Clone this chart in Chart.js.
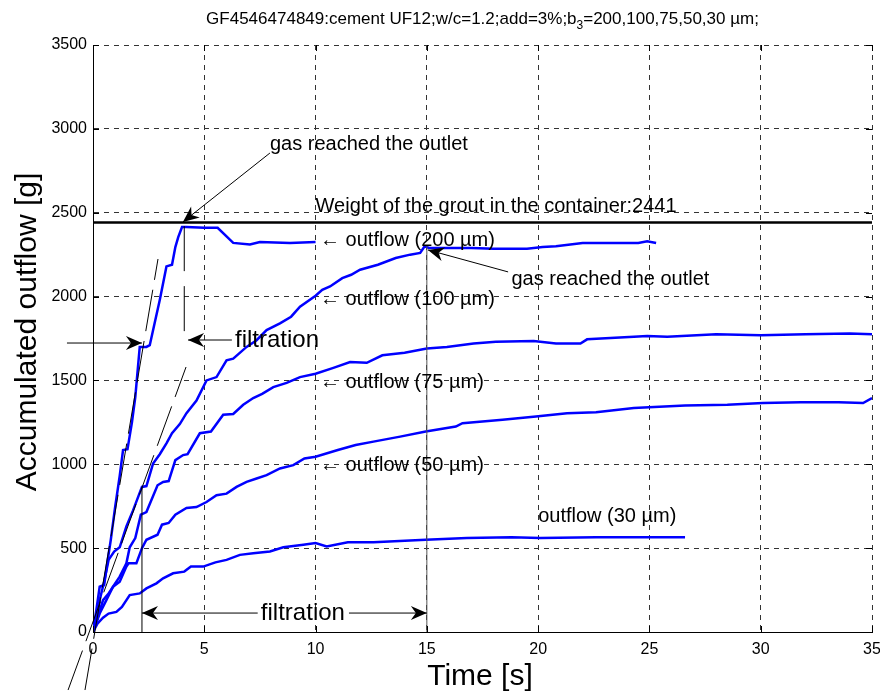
<!DOCTYPE html>
<html>
<head>
<meta charset="utf-8">
<script src="https://cdn.jsdelivr.net/npm/chart.js@4.4.1/dist/chart.umd.min.js"></script>
<style>
  html, body { margin: 0; padding: 0; background: #fff; }
  canvas { display: block; }
</style>
</head>
<body>
<canvas id="c" width="880" height="693"></canvas>
<script>
// outflow curves, time [s] and accumulated outflow [g]
var t200 = [0, 0.15, 0.3, 0.5, 0.65, 0.8, 1.0, 1.2, 1.35, 1.55, 1.75, 1.9, 2.1, 2.4, 2.55, 2.8, 3.0, 3.3, 3.55, 3.7, 3.83, 4.0, 4.2, 5.0, 5.6, 6.3, 7.05, 7.5, 8.85, 10];
var v200 = [0, 130, 270, 280, 420, 550, 750, 930, 1085, 1090, 1250, 1400, 1700, 1700, 1710, 1860, 1980, 2180, 2190, 2295, 2355, 2415, 2415, 2410, 2410, 2320, 2310, 2325, 2320, 2325];

var t100 = [0, 0.15, 0.3, 0.5, 0.7, 0.95, 1.2, 1.5, 1.8, 2.2, 2.4, 2.7, 3.0, 3.3, 3.55, 3.9, 4.2, 4.65, 5.1, 5.55, 6.0, 6.3, 6.9, 7.35, 7.8, 8.4, 8.9, 9.3, 10, 10.3, 10.65, 11.2, 11.6, 12.0, 12.8, 13.6, 14.25, 14.7, 14.9, 15.1, 16, 17, 18, 19.5, 20.2, 20.8, 22, 23, 24.5, 24.9, 25.3];
var v100 = [0, 60, 190, 300, 430, 480, 505, 630, 725, 865, 870, 1005, 1060, 1125, 1185, 1240, 1305, 1380, 1500, 1520, 1620, 1630, 1700, 1740, 1800, 1840, 1880, 1940, 2005, 2040, 2060, 2110, 2130, 2160, 2190, 2230, 2250, 2260, 2300, 2290, 2290, 2290, 2285, 2285, 2295, 2300, 2320, 2320, 2320, 2330, 2320];

var t75 = [0, 0.2, 0.45, 0.7, 0.9, 1.2, 1.5, 1.65, 1.9, 2.15, 2.4, 2.9, 3.15, 3.4, 3.7, 4.05, 4.25, 4.8, 5.3, 5.85, 6.3, 6.75, 7.2, 7.6, 8.1, 8.7, 9.3, 10, 10.8, 11.55, 12.3, 13.0, 14.0, 15, 15.9, 17.1, 18.1, 19.8, 20.8, 21.9, 22.2, 24.3, 24.9, 25.8, 28, 30, 32, 34, 35];
var v75 = [0, 80, 190, 230, 270, 330, 410, 505, 560, 700, 715, 875, 895, 900, 1025, 1055, 1060, 1185, 1195, 1295, 1300, 1355, 1395, 1420, 1460, 1485, 1520, 1540, 1575, 1610, 1605, 1650, 1665, 1690, 1700, 1720, 1730, 1735, 1720, 1720, 1745, 1760, 1765, 1760, 1775, 1770, 1775, 1780, 1775];

var t50 = [0, 0.3, 0.6, 0.9, 1.2, 1.5, 1.6, 1.95, 2.2, 2.4, 2.9, 3.1, 3.4, 3.7, 4.2, 4.65, 5.1, 5.55, 6.0, 6.45, 6.9, 7.35, 7.8, 8.4, 9.0, 9.5, 10, 11, 11.8, 12.6, 13.8, 14.95, 16.3, 16.6, 18.4, 19.9, 21.3, 22.6, 24.3, 26.6, 28.5, 30.1, 31.8, 33.5, 34.6, 35];
var v50 = [0, 110, 190, 270, 300, 390, 410, 410, 500, 550, 580, 640, 650, 700, 740, 745, 775, 815, 825, 865, 895, 915, 935, 975, 995, 1035, 1045, 1085, 1115, 1135, 1165, 1195, 1225, 1245, 1265, 1285, 1305, 1310, 1335, 1350, 1355, 1365, 1370, 1370, 1365, 1395];

var t30 = [0, 0.2, 0.45, 0.7, 1.05, 1.3, 1.65, 2.1, 2.4, 2.85, 3.15, 3.6, 4.1, 4.4, 4.95, 5.5, 6.0, 6.6, 7.2, 7.95, 8.55, 9.45, 10, 10.5, 11.45, 12.6, 14.95, 16.8, 18.8, 20.1, 22.6, 25, 26.6];
var v30 = [0, 50, 85, 110, 120, 150, 220, 230, 260, 290, 320, 350, 360, 390, 390, 415, 430, 460, 470, 480, 505, 520, 530, 510, 535, 535, 550, 560, 565, 560, 565, 565, 565];

var groutWeight = 2441;
var xTicks = [0, 5, 10, 15, 20, 25, 30, 35];
var yTicks = [0, 500, 1000, 1500, 2000, 2500, 3000, 3500];

// helper lines (tangents and markers), in data units
var tangent1 = [[-0.36, -346], [2.92, 2224]];
var tangent2 = [[-1.12, -346], [4.18, 1580]];
var gasMark1 = [[4.1, 2420], [4.1, 1790]];
var filtStart = [[2.2, 0], [2.2, 865]];
var filtEnd = [[15, 0], [15, 2300]];

var FONT = '"Liberation Sans", Arial, Helvetica, sans-serif';

function pts(t, v) { return t.map(function (x, i) { return { x: x, y: v[i] }; }); }
function seg(a) { return a.map(function (p) { return { x: p[0], y: p[1] }; }); }

function blue(t, v) {
  return { data: pts(t, v), borderColor: '#0000ff', borderWidth: 2.5, pointRadius: 0, tension: 0, fill: false };
}
function black(d, w, dash, col) {
  return { data: d, borderColor: col || '#000', borderWidth: w, borderDash: dash || [], pointRadius: 0, tension: 0, fill: false, clip: false };
}

function arrowHead(ctx, x, y, ang) {
  // matlab-like concave arrow head, tip at (x,y)
  var L = 16, W = 7, B = 11;
  ctx.save();
  ctx.translate(x, y);
  ctx.rotate(ang);
  ctx.beginPath();
  ctx.moveTo(0, 0);
  ctx.lineTo(-L, -W);
  ctx.lineTo(-B, 0);
  ctx.lineTo(-L, W);
  ctx.closePath();
  ctx.fillStyle = '#000';
  ctx.fill();
  ctx.restore();
}
function arrow(ctx, x1, y1, x2, y2) {
  ctx.beginPath();
  ctx.moveTo(x1, y1);
  ctx.lineTo(x2, y2);
  ctx.strokeStyle = '#000';
  ctx.lineWidth = 1;
  ctx.stroke();
  arrowHead(ctx, x2, y2, Math.atan2(y2 - y1, x2 - x1));
}

var decor = {
  id: 'decor',
  afterDraw: function (chart) {
    var ctx = chart.ctx, xs = chart.scales.x, ys = chart.scales.y, a = chart.chartArea;
    var X = function (t) { return xs.getPixelForValue(t); };
    var Y = function (v) { return ys.getPixelForValue(v); };
    ctx.save();

    // inward tick marks
    ctx.strokeStyle = '#000';
    ctx.lineWidth = 1;
    ctx.beginPath();
    xTicks.forEach(function (t) {
      var p = Math.round(X(t)) + 0.5;
      ctx.moveTo(p, a.bottom); ctx.lineTo(p, a.bottom - 6);
      ctx.moveTo(p, a.top); ctx.lineTo(p, a.top + 6);
    });
    yTicks.forEach(function (v) {
      var p = Math.round(Y(v)) + 0.5;
      ctx.moveTo(a.left, p); ctx.lineTo(a.left + 6, p);
      ctx.moveTo(a.right, p); ctx.lineTo(a.right - 6, p);
    });
    ctx.stroke();

    ctx.fillStyle = '#000';
    ctx.textBaseline = 'alphabetic';

    // title with subscript
    var p1 = 'GF4546474849:cement UF12;w/c=1.2;add=3%;b', p2 = '3', p3 = '=200,100,75,50,30 \u00b5m;';
    ctx.font = '17px ' + FONT;
    var w1 = ctx.measureText(p1).width, w3 = ctx.measureText(p3).width;
    ctx.font = '12px ' + FONT;
    var w2 = ctx.measureText(p2).width;
    var sx = (a.left + a.right) / 2 - (w1 + w2 + w3) / 2;
    ctx.textAlign = 'left';
    ctx.font = '17px ' + FONT;
    ctx.fillText(p1, sx, 24);
    ctx.font = '12px ' + FONT;
    ctx.fillText(p2, sx + w1, 29);
    ctx.font = '17px ' + FONT;
    ctx.fillText(p3, sx + w1 + w2, 24);

    // axis titles
    ctx.font = '30px ' + FONT;
    ctx.textAlign = 'center';
    ctx.fillText('Time [s]', 480, 685);
    ctx.save();
    ctx.translate(36, 332);
    ctx.rotate(-Math.PI / 2);
    ctx.fillText('Accumulated outflow [g]', 0, 0);
    ctx.restore();

    // labels
    ctx.font = '20px ' + FONT;
    ctx.textAlign = 'left';
    ctx.textBaseline = 'middle';
    ctx.fillText('Weight of the grout in the container:2441', X(10.0), Y(2540));
    ctx.fillText('\u2190 outflow (200 \u00b5m)', X(10.2), Y(2337));
    ctx.fillText('\u2190 outflow (100 \u00b5m)', X(10.2), Y(1985));
    ctx.fillText('\u2190 outflow (75 \u00b5m)', X(10.2), Y(1490));
    ctx.fillText('\u2190 outflow (50 \u00b5m)', X(10.2), Y(990));
    ctx.fillText('outflow (30 \u00b5m)', X(20.0), Y(686));
    ctx.fillText('gas reached the outlet', X(18.8), Y(2100));
    ctx.fillText('gas reached the outlet', X(7.95), Y(2904));

    arrow(ctx, X(18.65), Y(2147), X(15.05), Y(2278));
    arrow(ctx, X(7.95), Y(2856), X(4.04), Y(2445));

    // filtration (upper)
    ctx.font = '24px ' + FONT;
    ctx.fillText('filtration', X(6.38), Y(1741));
    arrow(ctx, X(6.24), Y(1741), X(4.27), Y(1741));
    arrow(ctx, X(-1.17), Y(1723), X(2.2), Y(1723));

    // filtration (lower)
    ctx.textAlign = 'center';
    ctx.fillText('filtration', X(9.43), Y(113));
    arrow(ctx, X(7.4), Y(113), X(2.2), Y(113));
    arrow(ctx, X(11.5), Y(113), X(15), Y(113));

    ctx.restore();
  }
};

function plain(v) { return String(v); }

new Chart(document.getElementById('c'), {
  type: 'line',
  data: {
    datasets: [
      black([{ x: 0, y: groutWeight }, { x: 35, y: groutWeight }], 2.5),
      black(seg(tangent1), 1, [42, 10]),
      black(seg(tangent2), 1, [42, 10]),
      black(seg(gasMark1), 1, [45, 15]),
      black(seg(filtStart), 1),
      black(seg(filtEnd), 1, [], '#555'),
      blue(t200, v200),
      blue(t100, v100),
      blue(t75, v75),
      blue(t50, v50),
      blue(t30, v30)
    ]
  },
  options: {
    responsive: false,
    animation: false,
    layout: { padding: { top: 45, right: 8, left: 0, bottom: 0 } },
    plugins: { legend: { display: false }, tooltip: { enabled: false }, title: { display: false } },
    scales: {
      x: {
        type: 'linear', min: 0, max: 35,
        afterFit: function (s) { s.height = 61; s.paddingLeft = 0; s.paddingRight = 0; },
        afterBuildTicks: function (s) { s.ticks = xTicks.map(function (v) { return { value: v }; }); },
        ticks: { color: '#000', font: { family: FONT, size: 16 }, padding: 8, maxRotation: 0, callback: plain },
        grid: { color: '#333', lineWidth: 1, drawTicks: false },
        border: { display: true, color: '#000', width: 1, dash: [5, 5] }
      },
      y: {
        type: 'linear', min: 0, max: 3500,
        afterFit: function (s) { s.width = 93; s.paddingTop = 0; s.paddingBottom = 0; },
        afterBuildTicks: function (s) { s.ticks = yTicks.map(function (v) { return { value: v }; }); },
        ticks: { color: '#000', font: { family: FONT, size: 16 }, padding: 6, callback: plain },
        grid: { color: '#333', lineWidth: 1, drawTicks: false },
        border: { display: true, color: '#000', width: 1, dash: [5, 5] }
      }
    }
  },
  plugins: [decor]
});
</script>
</body>
</html>
